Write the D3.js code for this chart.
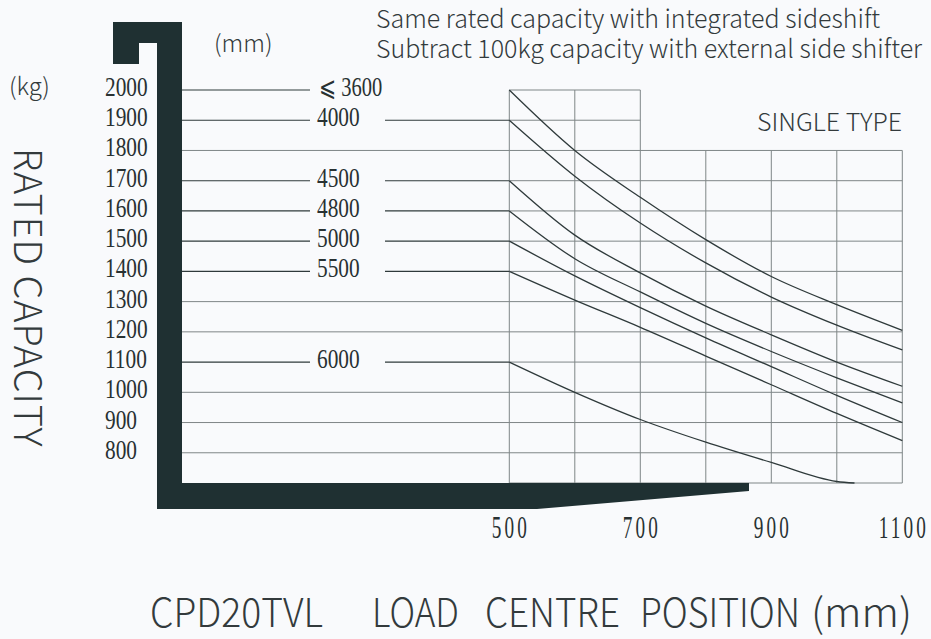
<!DOCTYPE html>
<html><head><meta charset="utf-8">
<script src="https://cdn.jsdelivr.net/npm/d3@7"></script>
<style>
html,body{margin:0;padding:0;background:#f9fafc;}
svg{display:block;}
</style></head>
<body>
<svg id="chart" width="931" height="639"></svg>
<script>
// ---- data ----
const loadCentres = [500, 600, 700, 800, 900, 1000, 1100];
const xTickLabels = [500, 700, 900, 1100];
const yTickLabels = [2000, 1900, 1800, 1700, 1600, 1500, 1400, 1300, 1200, 1100, 1000, 900, 800];
const liftHeights = ["⩽ 3600", "4000", "4500", "4800", "5000", "5500", "6000"];
const cap3600 = [2000, 1800, 1645, 1505, 1383, 1290, 1205];
const cap4000 = [1900, 1715, 1560, 1428, 1315, 1222, 1140];
const cap4500 = [1700, 1520, 1395, 1285, 1190, 1100, 1020];
const cap4800 = [1600, 1442, 1332, 1228, 1135, 1048, 965];
const cap5000 = [1500, 1385, 1280, 1180, 1085, 990, 900];
const cap5500 = [1400, 1305, 1215, 1120, 1025, 930, 840];
const cap6000 = [1100, 1000, 910, 835, 768, 705];
const cap6000End = [1027, 700];
const noteLines = ["Same rated capacity with integrated sideshift", "Subtract 100kg capacity with external side shifter"];
const titleWords = ["CPD20TVL", "LOAD", "CENTRE", "POSITION", "(mm)"];

const series = [cap3600, cap4000, cap4500, cap4800, cap5000, cap5500, cap6000];

// ---- layout ----
const svg = d3.select("#chart");
const x = d3.scaleLinear().domain([500, 1100]).range([509.3, 902.3]);
const y = d3.scaleLinear().domain([700, 2000]).range([483, 90]);
const forkInner = 182;
const labelGapL = 310, labelGapR = 385;

const gridCol = "#7f8687", lineCol = "#2f3a3b", darkCol = "#1f3032", textCol = "#283132";
const sans = "'Noto Sans CJK SC','Source Sans Pro','Noto Sans',sans-serif";
const serif = "'Liberation Serif','DejaVu Serif',serif";

svg.append("rect").attr("width", 931).attr("height", 639).attr("fill", "#f9fafc");
const g = svg.append("g");

// vertical grid
loadCentres.forEach(v => {
  const top = v <= 700 ? y(2000) : y(1800);
  g.append("line").attr("x1", x(v)).attr("x2", x(v)).attr("y1", top).attr("y2", y(700))
    .attr("stroke", gridCol).attr("stroke-width", 1);
});
g.append("line").attr("x1", x(500)).attr("x2", x(1100)).attr("y1", y(700)).attr("y2", y(700))
  .attr("stroke", gridCol).attr("stroke-width", 1);

// horizontal lines
const labelled = {};
series.forEach((s, i) => labelled[s[0]] = liftHeights[i]);
yTickLabels.forEach(v => {
  const yy = y(v);
  const right = v >= 1900 ? x(700) : x(1100);
  if (labelled[v]) {
    g.append("line").attr("x1", forkInner).attr("x2", labelGapL).attr("y1", yy).attr("y2", yy)
      .attr("stroke", lineCol).attr("stroke-width", 1.1);
    if (v !== 2000) {
      g.append("line").attr("x1", labelGapR).attr("x2", x(500)).attr("y1", yy).attr("y2", yy)
        .attr("stroke", lineCol).attr("stroke-width", 1.1);
    }
    g.append("line").attr("x1", x(500)).attr("x2", right).attr("y1", yy).attr("y2", yy)
      .attr("stroke", gridCol).attr("stroke-width", 1);
  } else {
    g.append("line").attr("x1", forkInner).attr("x2", right).attr("y1", yy).attr("y2", yy)
      .attr("stroke", gridCol).attr("stroke-width", 1);
  }
});

// curves
const line = d3.line().x(d => x(d[0])).y(d => y(d[1])).curve(d3.curveMonotoneX);
series.forEach((s, i) => {
  let pts = s.map((c, j) => [loadCentres[j], c]);
  if (i === 6) pts.push(cap6000End);
  g.append("path").attr("d", line(pts)).attr("fill", "none")
    .attr("stroke", lineCol).attr("stroke-width", 1.3);
});

// fork silhouette
const fork = d3.path();
fork.moveTo(113, 22); fork.lineTo(forkInner, 22); fork.lineTo(forkInner, y(700));
fork.lineTo(749, y(700)); fork.lineTo(749, 491); fork.lineTo(537, 509);
fork.lineTo(157, 509); fork.lineTo(157, 43); fork.lineTo(139, 43); fork.lineTo(139, 64);
fork.lineTo(113, 64); fork.closePath();
g.append("path").attr("d", fork.toString()).attr("fill", darkCol);

// numeric labels (condensed serif)
function numLabel(txt, px, py, size, sx, anchor, ls) {
  const t = g.append("g").attr("transform", `translate(${px},${py}) scale(${sx},1)`)
    .append("text").attr("x", 0).attr("y", 0).attr("font-family", serif)
    .attr("font-size", size).attr("fill", textCol).attr("text-anchor", anchor).text(txt);
  if (ls) t.attr("letter-spacing", ls);
  return t;
}
yTickLabels.forEach(v => numLabel(String(v), 105, y(v) + 6, 27, 0.79, "start"));
series.forEach((s, i) => {
  numLabel(liftHeights[i], i === 0 ? 319 : 317, y(s[0]) + 6, 27, i === 0 ? 0.76 : 0.79, "start");
});
xTickLabels.forEach(v => numLabel(String(v), x(v) + 1.5, 538, 31, 0.62, "middle", 5));

// sans texts
function sText(txt, px, py, size, opts = {}) {
  const t = g.append("text").attr("x", px).attr("y", py).attr("font-family", sans)
    .attr("font-size", size).attr("font-weight", 300).attr("fill", "#333a3c").text(txt);
  if (opts.anchor) t.attr("text-anchor", opts.anchor);
  if (opts.ls) t.attr("letter-spacing", opts.ls);
  return t;
}
sText(noteLines[0], 376, 28, 25);
sText(noteLines[1], 376, 58, 25);
sText("(mm)", 214, 52, 24);
sText("(kg)", 9, 95, 24);
sText("SINGLE TYPE", 757, 131, 25);

// rotated y title
g.append("text").attr("transform", "translate(14,148) rotate(90)")
  .attr("font-family", sans).attr("font-size", 38).attr("font-weight", 300)
  .attr("fill", "#333a3c").attr("letter-spacing", 1).text("RATED CAPACITY");

// bottom title
const wordPos = [[150, 173], [372, 87], [485, 135], [640, 160], [811, 101]];
const bt = g.append("text").attr("y", 627).attr("font-family", sans).attr("font-size", 40)
  .attr("font-weight", 300).attr("fill", "#333a3c");
titleWords.forEach((w, i) => {
  bt.append("tspan").attr("x", wordPos[i][0]).attr("textLength", wordPos[i][1])
    .attr("lengthAdjust", "spacingAndGlyphs").text(w);
});
</script>
</body></html>
